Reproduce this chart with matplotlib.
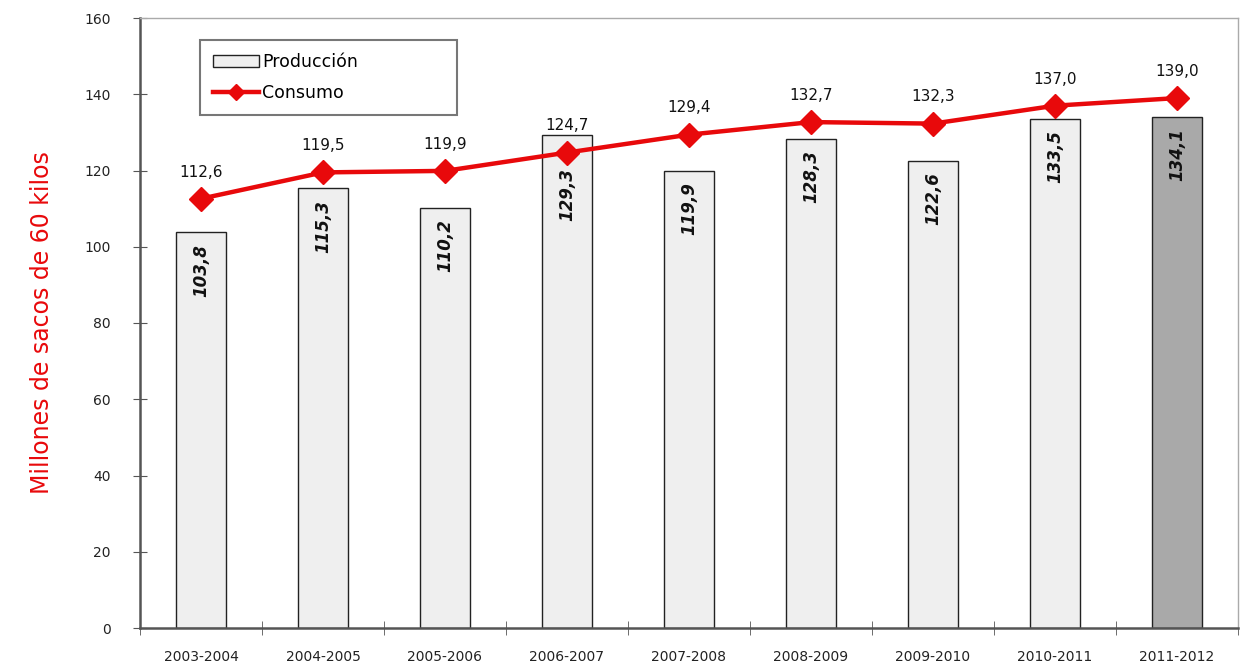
import matplotlib
matplotlib.use("Agg")
import matplotlib.pyplot as plt
import numpy as np

categories = ["2003-2004", "2004-2005", "2005-2006", "2006-2007", "2007-2008",
              "2008-2009", "2009-2010", "2010-2011", "2011-2012"]
produccion = [103.8, 115.3, 110.2, 129.3, 119.9, 128.3, 122.6, 133.5, 134.1]
consumo = [112.6, 119.5, 119.9, 124.7, 129.4, 132.7, 132.3, 137.0, 139.0]
yticks = [0, 20, 40, 60, 80, 100, 120, 140, 160]

def fmt(v):
    return f"{v:.1f}".replace(".", ",")

fig = plt.figure(figsize=(12.48, 6.66), dpi=100)
ax = fig.add_axes([140/1248, 38/666, (1238-140)/1248, (628-18)/666])

x = np.arange(len(categories))
colors = ["#efefef"] * (len(categories) - 1) + ["#a9a9a9"]
bars = ax.bar(x, produccion, width=0.41, color=colors, edgecolor="#222222",
              linewidth=1.0, label="Producción", zorder=2)
line, = ax.plot(x, consumo, color="#e8090b", linewidth=3.2, marker="D", markersize=12,
                label="Consumo", zorder=3)

for xi, v, c in zip(x, produccion, consumo):
    top = min(v - 3, c - 4)
    ax.text(xi, top, fmt(v), rotation=90, ha="center", va="top",
            fontsize=12, fontweight="bold", style="italic", color="#111111", zorder=4)
for xi, v in zip(x, consumo):
    ax.text(xi, v + 7, fmt(v), ha="center", va="center", fontsize=11,
            color="#111111", zorder=4)

ax.set_xlim(-0.5, len(categories) - 0.5)
ax.set_ylim(0, 160)
ax.set_yticks(yticks)
ax.set_yticklabels([str(t) for t in yticks], fontsize=10, color="#222222")
ax.set_xticks(x)
ax.set_xticklabels(categories, fontsize=10, color="#222222")
ax.set_xticks(np.arange(len(categories) + 1) - 0.5, minor=True)
ax.tick_params(axis="x", which="major", length=0, pad=16)
ax.tick_params(axis="x", which="minor", direction="inout", length=10, color="#555555")
ax.tick_params(axis="y", direction="inout", length=10, color="#555555", pad=16)

for s in ["left", "bottom"]:
    ax.spines[s].set_color("#555555")
    ax.spines[s].set_linewidth(1.8)
for s in ["top", "right"]:
    ax.spines[s].set_color("#aaaaaa")
    ax.spines[s].set_linewidth(1.0)

ax.set_ylabel("Millones de sacos de 60 kilos", color="#e8090b", fontsize=17, labelpad=22)

leg = ax.legend(handles=[bars, line], labels=["Producción", "Consumo"],
                loc="lower left", bbox_to_anchor=(0.055, 0.841, 0.234, 0.12),
                mode="expand", fontsize=12.5, frameon=True, fancybox=False,
                edgecolor="#555555", handlelength=2.6, handletextpad=0.2,
                borderpad=0.75, labelspacing=0.75, borderaxespad=0, markerscale=0.7)
leg.get_frame().set_linewidth(1.5)

fig.savefig("out.png", dpi=100, facecolor="white")
